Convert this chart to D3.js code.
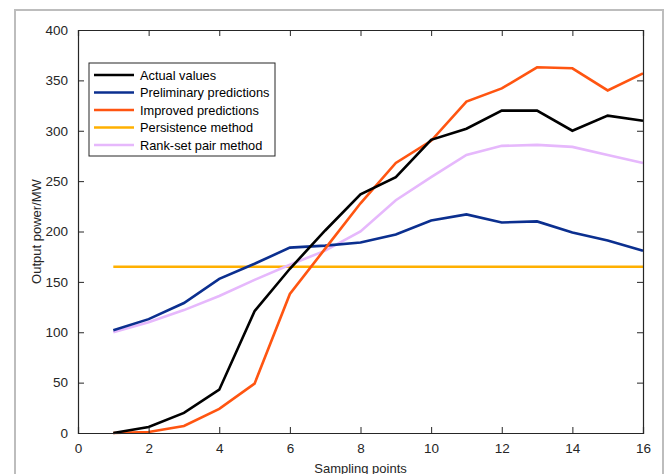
<!DOCTYPE html>
<html><head><meta charset="utf-8">
<script src="https://cdn.jsdelivr.net/npm/d3@7"></script>
<style>body{margin:0;background:#fff;}svg{display:block;font-family:"Liberation Sans",Arial,sans-serif;}</style>
</head><body>
<script>
const samplingPoints = [1,2,3,4,5,6,7,8,9,10,11,12,13,14,15,16];
const actualValues = [0,6,20,43,121,163,201,237,254,291,302,320,320,300,315,310];
const preliminaryPredictions = [102,113,129,153,168,184,186,189,197,211,217,209,210,199,191,181];
const improvedPredictions = [0,1,7,24,49,138,183,228,268,290,329,342,363,362,340,357];
const persistenceMethod = [165,165,165,165,165,165,165,165,165,165,165,165,165,165,165,165];
const rankSetPairMethod = [100,110,122,136,152,167,181,200,231,254,276,285,286,284,276,268];
const seriesNames = ["Actual values","Preliminary predictions","Improved predictions","Persistence method","Rank-set pair method"];
const seriesColors = ["#000000","#0b2f8f","#ff5511","#ffb000","#e6b8fc"];
const xTicks = [0,2,4,6,8,10,12,14,16];
const yTicks = [0,50,100,150,200,250,300,350,400];

const W=665,H=474;
const svg=d3.select("body").append("svg").attr("width",W).attr("height",H);
// figure frame
svg.append("rect").attr("x",15).attr("y",10).attr("width",648).attr("height",480)
  .attr("fill","none").attr("stroke","#bdbdbd").attr("stroke-width",2);

const L=78,R=643,T=30,B=433;
const x=d3.scaleLinear().domain([0,16]).range([L,R]);
const y=d3.scaleLinear().domain([0,400]).range([B,T]);

const allSeries=[actualValues,preliminaryPredictions,improvedPredictions,persistenceMethod,rankSetPairMethod];
const line=d3.line().x((d,i)=>x(samplingPoints[i])).y(d=>y(d));
const order=[3,4,1,2,0];
order.forEach(k=>{
  svg.append("path").datum(allSeries[k]).attr("d",line)
    .attr("fill","none").attr("stroke",seriesColors[k]).attr("stroke-width",2.6)
    .attr("stroke-linejoin","miter");
});

const fmt=d3.format("d");
const ax=svg.append("g").attr("transform",`translate(0,${B})`)
  .call(d3.axisBottom(x).tickValues(xTicks).tickSize(-6).tickPadding(10).tickFormat(fmt));
const axT=svg.append("g").attr("transform",`translate(0,${T})`)
  .call(d3.axisTop(x).tickValues(xTicks).tickSize(-6).tickFormat(""));
const ay=svg.append("g").attr("transform",`translate(${L},0)`)
  .call(d3.axisLeft(y).tickValues(yTicks).tickSize(-6).tickPadding(10).tickFormat(fmt));
const ayR=svg.append("g").attr("transform",`translate(${R},0)`)
  .call(d3.axisRight(y).tickValues(yTicks).tickSize(-6).tickFormat(""));
[ax,axT,ay,ayR].forEach(g=>{
  g.selectAll("path.domain").attr("stroke","#262626").attr("stroke-width",1.2);
  g.selectAll(".tick line").attr("stroke","#262626").attr("stroke-width",1);
  g.selectAll("text").attr("font-family","Liberation Sans, Arial, sans-serif").attr("font-size",13.5).attr("fill","#262626");
});

svg.append("text").attr("x",(L+R)/2).attr("y",473).attr("text-anchor","middle")
  .attr("font-size",13).attr("fill","#262626").text("Sampling points");
svg.append("text").attr("transform",`translate(41,${(T+B)/2}) rotate(-90)`).attr("text-anchor","middle")
  .attr("font-size",13).attr("fill","#262626").text("Output power/MW");

// legend
const lg=svg.append("g");
lg.append("rect").attr("x",89).attr("y",63).attr("width",186).attr("height",93)
  .attr("fill","#fff").attr("stroke","#262626").attr("stroke-width",1);
seriesNames.forEach((n,i)=>{
  const yy=75+i*17.5;
  lg.append("line").attr("x1",94).attr("x2",134).attr("y1",yy).attr("y2",yy)
    .attr("stroke",seriesColors[i]).attr("stroke-width",2.6);
  lg.append("text").attr("x",140).attr("y",yy+4.5).attr("font-size",12.8).attr("fill","#000").text(n);
});
</script>
</body></html>
